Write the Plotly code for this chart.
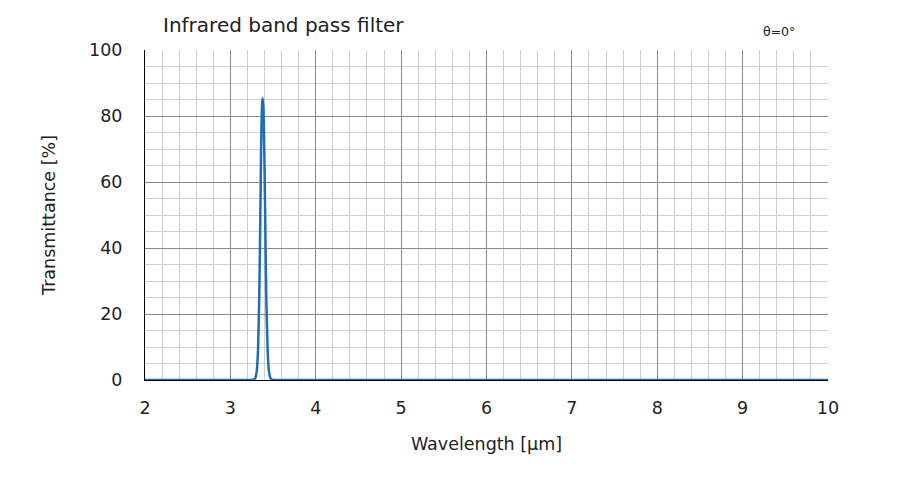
import plotly.graph_objects as go

wavelength = [2.0, 3.0, 3.24, 3.27, 3.29, 3.31, 3.325, 3.34, 3.35, 3.36, 3.37, 3.378,
              3.388, 3.40, 3.41, 3.42, 3.435, 3.45, 3.47, 3.49, 3.6, 5.0, 10.0]
transmittance = [0.0, 0.0, 0.0, 0.1, 0.5, 3.0, 10.0, 28.0, 48.0, 70.0, 83.0, 85.4,
                 82.0, 65.0, 45.0, 26.0, 10.0, 3.0, 0.6, 0.1, 0.0, 0.0, 0.0]

x_ticks = [2, 3, 4, 5, 6, 7, 8, 9, 10]
y_ticks = [0, 20, 40, 60, 80, 100]

FONT = "DejaVu Sans"
TXT = "#222"

fig = go.Figure()
fig.add_trace(go.Scatter(x=wavelength, y=transmittance, mode="lines",
                         line=dict(color="#1f6db5", width=2.5, shape="spline", smoothing=0.4),
                         showlegend=False, cliponaxis=False))

fig.update_layout(
    width=920, height=492,
    margin=dict(l=137, r=100, t=42, b=120),
    paper_bgcolor="white", plot_bgcolor="white",
    font=dict(family=FONT, color=TXT),
    annotations=[
        dict(text="Infrared band pass filter", xref="paper", yref="paper", x=0.0, y=1.0,
             xshift=16, yshift=25, xanchor="left", yanchor="middle", showarrow=False,
             font=dict(size=20, family=FONT, color=TXT)),
        dict(text="θ=0°", xref="paper", yref="paper", x=0.928, y=1.0, yshift=19,
             xanchor="center", yanchor="middle", showarrow=False,
             font=dict(size=12.5, family=FONT, color=TXT)),
    ],
)

fig.update_xaxes(
    range=[2, 10], tickvals=x_ticks, ticktext=[str(v) for v in x_ticks],
    showgrid=True, gridcolor="#8a8a8a", gridwidth=1,
    minor=dict(dtick=0.2, tick0=2, showgrid=True, gridcolor="#cfcfcf", gridwidth=1),
    showline=True, linecolor="black", linewidth=1, zeroline=False, layer="below traces",
    ticks="", ticklabelstandoff=12,
    tickfont=dict(size=17.5, family=FONT, color=TXT),
    title=dict(text="Wavelength [μm]", font=dict(size=17.5, family=FONT, color=TXT), standoff=20),
)
fig.update_yaxes(
    range=[0, 100], tickvals=y_ticks, ticktext=[str(v) for v in y_ticks],
    showgrid=True, gridcolor="#8a8a8a", gridwidth=1,
    minor=dict(dtick=5, tick0=0, showgrid=True, gridcolor="#cfcfcf", gridwidth=1),
    showline=True, linecolor="black", linewidth=1, zeroline=False, layer="below traces",
    ticks="", ticklabelstandoff=18,
    tickfont=dict(size=17.5, family=FONT, color=TXT),
    title=dict(text="Transmittance [%]", font=dict(size=17.5, family=FONT, color=TXT), standoff=28),
)

fig.write_html("out.html")
